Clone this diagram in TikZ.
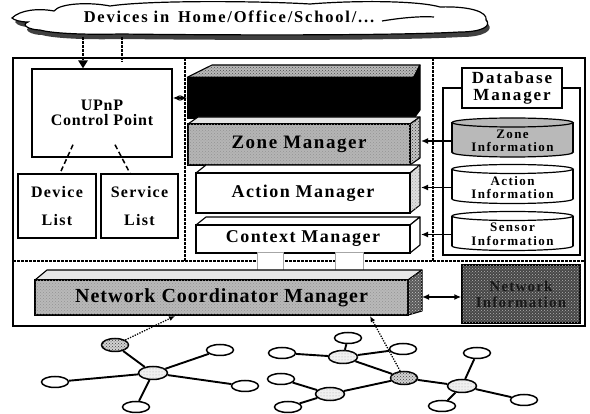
\documentclass[tikz,border=0pt]{standalone}
\usepackage{fontspec}
\setmainfont{Liberation Serif}
\newfontfamily\trackS[LetterSpace=5]{Liberation Serif}
\newfontfamily\trackM[LetterSpace=8]{Liberation Serif}
\newfontfamily\trackL[LetterSpace=11]{Liberation Serif}
\usetikzlibrary{shapes.geometric,arrows.meta,patterns,calc}

\tikzset{
  frame/.style={draw, line width=1.4pt, fill=white, inner sep=0pt, align=center},
  face/.style={draw, line width=1.1pt, line join=round},
  grain/.style={postaction={pattern=crosshatch dots, pattern color=#1}},
  sepline/.style={line width=2.8pt, dash pattern=on 2.6pt off 1.4pt},
  link/.style={line width=1.3pt, dash pattern=on 1.3pt off 1.3pt},
  arr/.style={line width=1.6pt, -{Latex[length=7pt,width=6pt]}},
  dblarr/.style={line width=1.6pt, {Latex[length=7pt,width=6pt]}-{Latex[length=7pt,width=6pt]}},
  leaf/.style={ellipse, draw, line width=1.5pt, fill=white, minimum width=27pt, minimum height=11pt, inner sep=0pt},
  hub/.style={leaf, minimum width=29pt, minimum height=13pt, fill=gray!12, postaction={pattern=dots, pattern color=gray!70}},
  gate/.style={leaf, minimum width=27pt, minimum height=13pt, fill=gray!35, postaction={pattern=crosshatch dots, pattern color=black!75}},
  edge/.style={line width=1.9pt},
}

% database cylinder: name, centre x, centre y, fill, text
\newcommand{\dbcyl}[5]{%
  \filldraw[fill=#4, line width=1.2pt] ({#2},{#3+15}) ellipse [x radius=60.5, y radius=4.5];
  \fill[#4] ({#2-60.5},{#3-15}) rectangle ({#2+60.5},{#3+15});
  \draw[line width=1.2pt] ({#2-60.5},{#3-15}) -- ({#2-60.5},{#3+15});
  \draw[line width=1.2pt] ({#2+60.5},{#3-15}) -- ({#2+60.5},{#3+15});
  \filldraw[fill=#4, line width=1.2pt] ({#2},{#3-15}) ellipse [x radius=60.5, y radius=4.5];
  \node[inner sep=0pt, minimum width=121pt, minimum height=30pt, align=center, yshift=-3.5pt,
        font={\trackL\bfseries\fontsize{13}{13.5}\selectfont}] (#1) at (#2,#3) {#5};
}

\begin{document}
\begin{tikzpicture}[x=1pt,y=-1pt]
\useasboundingbox (0,0) rectangle (590,414);

% ---------- cloud of devices ----------
\path[fill=black!75] (15,22) .. controls (22,14) and (40,12) .. (56,15)
  .. controls (62,7) and (92,6) .. (112,10)
  .. controls (152,4) and (262,5) .. (312,8)
  .. controls (362,4) and (422,5) .. (442,11)
  .. controls (472,10) and (490,16) .. (488,24)
  .. controls (494,30) and (484,37) .. (462,37)
  .. controls (392,41) and (202,40) .. (122,39)
  .. controls (82,40) and (52,38) .. (42,35)
  .. controls (32,35) and (22,30) .. (30,27)
  .. controls (22,27) and (17,25) .. (15,22) -- cycle;
\filldraw[fill=white, line width=1.2pt] (12,18) .. controls (20,10) and (38,8) .. (54,11)
  .. controls (60,3) and (90,2) .. (110,6)
  .. controls (150,0) and (260,1) .. (310,4)
  .. controls (360,0) and (420,1) .. (440,7)
  .. controls (470,6) and (488,12) .. (486,20)
  .. controls (492,26) and (482,32) .. (460,32)
  .. controls (390,36) and (200,35) .. (120,34)
  .. controls (80,35) and (50,33) .. (40,30)
  .. controls (30,30) and (20,25) .. (28,22)
  .. controls (20,22) and (14,20) .. (12,18) -- cycle;
\draw[line width=1.2pt] (382,21) .. controls (400,18) and (420,16) .. (434,17);
\node[font={\trackL\bfseries\fontsize{16.5}{18}\selectfont}] (cloudtxt) at (229,17) {Devices in\, Home/Office/School/...};

% ---------- outer frame and dotted partitions ----------
\draw[line width=1.5pt] (13,58) rectangle (585,326);
\coordinate (sepTL) at (185,58);
\coordinate (sepBL) at (185,261);
\coordinate (sepTR) at (433,58);
\coordinate (sepBR) at (433,261);
\coordinate (sepW) at (13,261);
\coordinate (sepE) at (585,261);
\draw[sepline] (sepTL) -- (sepBL);
\draw[sepline] (sepTR) -- (sepBR);
\draw[sepline] (sepW) -- (sepE);

% ---------- UPnP control point ----------
\node[frame, minimum width=140pt, minimum height=88pt,
      font={\trackS\bfseries\fontsize{16}{14.5}\selectfont}] (upnp) at (102,113) {UPnP\\Control Point};
\node[frame, minimum width=78pt, minimum height=64pt,
      font={\trackM\bfseries\fontsize{16}{28}\selectfont}] (dev) at (57,206) {Device\\List};
\node[frame, minimum width=77pt, minimum height=64pt,
      font={\trackM\bfseries\fontsize{16}{28}\selectfont}] (svc) at (139.5,206) {Service\\List};
\coordinate (upA) at ($(upnp.south)+(-29,-13)$);
\coordinate (upB) at ($(upnp.south)+(13,-13)$);
\draw[line width=1.5pt, dash pattern=on 5pt off 3pt] (upA) -- ($(dev.north)+(3,0)$);
\draw[line width=1.5pt, dash pattern=on 5pt off 3pt] (upB) -- ($(svc.north)+(-9.5,0)$);

% links from the devices cloud
\coordinate (cldA) at (83,37);
\coordinate (cldB) at (122,37);
\coordinate (frameTop) at (122,62);
\draw[sepline] (cldA) -- ($(cldA |- upnp.north)+(0,-7)$);
\fill ($(cldA |- upnp.north)+(-5,-8)$) -- ($(cldA |- upnp.north)+(5,-8)$) -- (cldA |- upnp.north) -- cycle;
\draw[sepline] (cldB) -- (frameTop);

% ---------- manager stack ----------
% top block
\node[frame, fill=black, minimum width=225pt, minimum height=40pt] (blk) at (300.5,98) {};
\path[face, fill=gray!55, grain=black!70] (blk.north west) -- (212,65) -- (420,65) -- (blk.north east) -- cycle;
\path[face, fill=black] (blk.north east) -- (420,65) -- (420,110) -- (blk.south east) -- cycle;
% zone manager
\path[face, fill=gray!20] (188,124) -- (198,117) -- (420,117) -- (410,124) -- cycle;
\path[face, fill=gray!45, grain=black!80] (410,124) -- (420,117) -- (420,158) -- (410,165) -- cycle;
\node[frame, fill=gray!58, grain=gray!85, minimum width=222pt, minimum height=41pt,
      font={\trackM\bfseries\fontsize{19}{22}\selectfont}] (zone) at (299,144.5) {Zone Manager};
% action manager
\path[face, fill=white] (196,173) -- (206,165) -- (420,165) -- (410,173) -- cycle;
\path[face, fill=gray!25, grain=gray!70] (410,173) -- (420,165) -- (420,205) -- (410,213) -- cycle;
\node[frame, minimum width=214pt, minimum height=40pt,
      font={\trackM\bfseries\fontsize{18}{20}\selectfont}] (act) at (303,193) {Action Manager};
% context manager
\path[face, fill=white] (196,225) -- (206,217) -- (420,217) -- (410,225) -- cycle;
\path[face, fill=white] (410,225) -- (420,217) -- (420,245) -- (410,253) -- cycle;
\node[frame, minimum width=214pt, minimum height=28pt,
      font={\trackM\bfseries\fontsize{18}{20}\selectfont}] (ctx) at (303,239) {Context Manager};

\draw[dblarr] (upnp.east |- blk.west) -- (blk.west);

% ---------- database manager ----------
\node[frame, minimum width=100pt, minimum height=40pt,
      font={\trackL\bfseries\fontsize{17}{17}\selectfont}] (dbm) at (512,88) {Database\\Manager};
\draw[line width=1.4pt] (dbm.west) -- (443,88) -- (443,255) -- (580,255) -- (580,88) -- (dbm.east);
\dbcyl{zinfo}{512.5}{137.5}{gray!55}{Zone\\Information}
\dbcyl{ainfo}{512.5}{184}{white}{Action\\Information}
\dbcyl{sinfo}{512.5}{231}{white}{Sensor\\Information}
\coordinate (stackSide) at (421,0);
\draw[arr] (zinfo.west) -- (zinfo.west -| stackSide);
\draw[arr] (ainfo.west) -- (ainfo.west -| stackSide);
\draw[arr] (sinfo.west) -- (sinfo.west -| stackSide);

% ---------- network coordinator ----------
\node[draw=gray!70, line width=0.6pt, fill=white, minimum width=26pt, minimum height=19pt, inner sep=0pt] (tabA) at (270,262) {};
\node[draw=gray!70, line width=0.6pt, fill=white, minimum width=28pt, minimum height=19pt, inner sep=0pt] (tabB) at (349,262) {};
\path[face, fill=gray!18] (35,280) -- (47,270) -- (422,270) -- (408,280) -- cycle;
\path[face, fill=gray!70!black, grain=gray!40] (408,280) -- (422,270) -- (422,311) -- (408,315) -- cycle;
\node[frame, fill=gray!55, grain=gray!85, minimum width=373pt, minimum height=35pt,
      font={\trackS\bfseries\fontsize{20}{22}\selectfont}] (ncm) at (221.5,297.5) {Network Coordinator Manager};

\node[frame, fill=black!72, grain=gray!60, minimum width=118pt, minimum height=58pt,
      font={\trackM\bfseries\fontsize{15}{16}\selectfont}, text=black!90] (ninfo) at (521,294) {Network\\Information};
\coordinate (ncmSide) at (422,297);
\draw[dblarr] (ncmSide) -- (ninfo.west |- ncmSide);

% ---------- sensor networks ----------
\node[hub]  (h1) at (153,373) {};
\node[gate] (n1) at (115,345) {};
\node[leaf] (n2) at (220,350) {};
\node[leaf] (n3) at (55,382) {};
\node[leaf] (n4) at (245,386) {};
\node[leaf] (n5) at (136,407) {};
\foreach \t in {n1,n2,n3,n4,n5} \draw[edge] (h1) -- (\t);

\node[hub]  (nb) at (343,357) {};
\node[leaf] (na) at (348,338) {};
\node[leaf] (nc) at (403,349) {};
\node[gate] (nd) at (404,378) {};
\node[hub]  (ne) at (462,386) {};
\node[leaf] (nf) at (477,353) {};
\node[leaf] (ng) at (524,400) {};
\node[leaf] (nh) at (442,406) {};
\node[hub]  (ni) at (330,394) {};
\node[leaf] (nj) at (282,353) {};
\node[leaf] (nk) at (281,379) {};
\node[leaf] (nl) at (288,407) {};
\foreach \a/\b in {nj/nb, na/nb, nb/nc, nb/nd, nd/ne, ne/nf, ne/ng, ne/nh, nd/ni, ni/nk, ni/nl}
  \draw[edge] (\a) -- (\b);

\coordinate (ncmL) at (175,316);
\coordinate (ncmR) at (370,316);
\draw[link, -{Latex[length=6pt,width=5pt]}] (n1) -- (ncmL);
\draw[link, -{Latex[length=6pt,width=5pt]}] (nd) -- (ncmR);
\end{tikzpicture}
\end{document}
